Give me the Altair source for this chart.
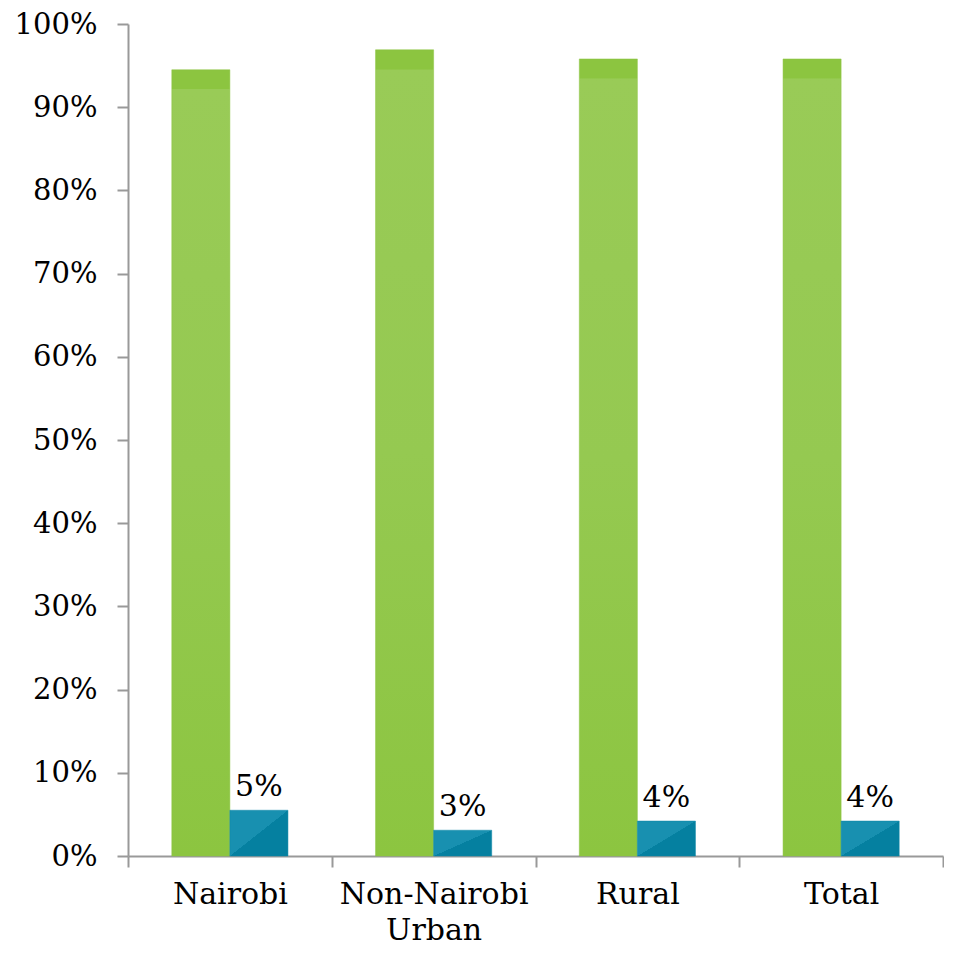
import altair as alt
import pandas as pd

categories = ["Nairobi", "Non-Nairobi Urban", "Rural", "Total"]
series_a = [94.5, 96.9, 95.8, 95.8]
series_b = [5.5, 3.1, 4.2, 4.2]
labels_b = ["5%", "3%", "4%", "4%"]

rows = []
for c, a, b, lb in zip(categories, series_a, series_b, labels_b):
    rows.append({"cat": c, "series": "A", "value": a, "label": ""})
    rows.append({"cat": c, "series": "B", "value": b, "label": lb})
df = pd.DataFrame(rows)

FONT = "DejaVu Serif"

green_grad = alt.Gradient(
    gradient="linear", x1=0, y1=0, x2=0, y2=1,
    stops=[
        alt.GradientStop(offset=0, color="#8CC540"),
        alt.GradientStop(offset=0.024, color="#8CC540"),
        alt.GradientStop(offset=0.025, color="#99CB57"),
        alt.GradientStop(offset=0.5, color="#95C951"),
        alt.GradientStop(offset=1, color="#8CC540"),
    ],
)
blue_grad = alt.Gradient(
    gradient="linear", x1=0, y1=0, x2=1, y2=1,
    stops=[
        alt.GradientStop(offset=0, color="#1890B0"),
        alt.GradientStop(offset=0.5, color="#1890B0"),
        alt.GradientStop(offset=0.501, color="#0580A0"),
        alt.GradientStop(offset=1, color="#0580A0"),
    ],
)

xenc = alt.X(
    "cat:N", sort=categories, title=None,
    scale=alt.Scale(paddingInner=0, paddingOuter=0),
    axis=alt.Axis(
        labelAngle=0, labelFont=FONT, labelFontSize=30, labelColor="#000000",
        labelPadding=12, tickBand="extent", tickSize=11, tickWidth=2,
        tickColor="#999999", domainColor="#999999", domainWidth=2,
        labelLimit=0,
        labelExpr="datum.label == 'Non-Nairobi Urban' ? ['Non-Nairobi', 'Urban'] : datum.label",
        labelLineHeight=36,
    ),
)
yscale = alt.Scale(domain=[0, 100])
yaxis = alt.Axis(
    values=list(range(0, 101, 10)), labelExpr="datum.value + '%'",
    labelFont=FONT, labelFontSize=29, labelColor="#000000", labelPadding=20,
    tickSize=11, tickWidth=2, tickColor="#999999", domainColor="#999999",
    domainWidth=2, grid=False,
)
xoff = alt.XOffset("series:N", sort=["A", "B"],
                   scale=alt.Scale(paddingInner=0, paddingOuter=0.754))

base = alt.Chart(df)

green = base.transform_filter("datum.series == 'A'").mark_bar(
    fill=green_grad, stroke="#8CC540", strokeWidth=0.5
).encode(x=xenc, xOffset=xoff, y=alt.Y("value:Q", scale=yscale, axis=yaxis, title=None))

blue = base.transform_filter("datum.series == 'B'").mark_bar(
    fill=blue_grad, stroke="#0E86A6", strokeWidth=0.5
).encode(x=xenc, xOffset=xoff, y=alt.Y("value:Q", scale=yscale))

text = base.transform_filter("datum.series == 'B'").mark_text(
    font=FONT, fontSize=30, color="#000000", baseline="bottom", dy=-8
).encode(x=xenc, xOffset=xoff, y=alt.Y("value:Q", scale=yscale), text="label:N")

chart = alt.layer(green, blue, text).properties(
    width=815, height=832,
    padding={"left": 6, "top": 2, "right": 0, "bottom": 0},
    background="#ffffff",
).configure_view(stroke=None)

chart.save("out.html", embed_options={"renderer": "svg", "actions": False})
